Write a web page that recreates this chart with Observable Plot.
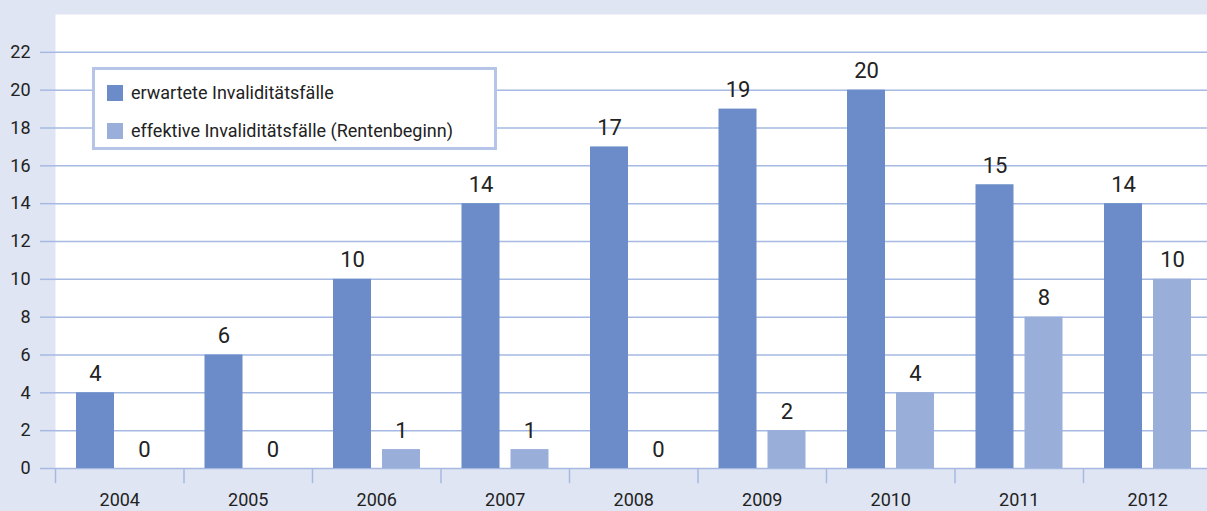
<!DOCTYPE html>
<html>
<head>
<meta charset="utf-8">
<script src="https://cdn.jsdelivr.net/npm/d3@7"></script>
<script src="https://cdn.jsdelivr.net/npm/@observablehq/plot@0.6"></script>
<style>
  html, body { margin: 0; padding: 0; background: #dfe5f3; }
  #wrap { position: relative; width: 1207px; height: 511px; overflow: hidden; font-family: Roboto, "Noto Sans", sans-serif; }
  #legend {
    position: absolute; left: 92px; top: 67px; width: 399px; height: 77px;
    background: #fff; border: 3px solid #b6c5e7;
    font-size: 18px; color: #222;
  }
  .item { position: absolute; left: 12px; display: flex; align-items: center; }
  .sw { width: 16px; height: 16px; margin-right: 8px; }
</style>
</head>
<body>
<div id="wrap"></div>
<script>
const years = ["2004","2005","2006","2007","2008","2009","2010","2011","2012"];
const expected = [4, 6, 10, 14, 17, 19, 20, 15, 14];
const effective = [0, 0, 1, 1, 0, 2, 4, 8, 10];
const seriesNames = ["erwartete Invaliditätsfälle", "effektive Invaliditätsfälle (Rentenbeginn)"];
const colors = ["#6b8cc8", "#99aed9"];
const yTicks = d3.range(0, 23, 2);

const expData = years.map((y, i) => ({year: y, value: expected[i]}));
const effData = years.map((y, i) => ({year: y, value: effective[i]}));

const chart = Plot.plot({
  width: 1207,
  height: 511,
  marginLeft: 55,
  marginRight: 0,
  marginTop: 14,
  marginBottom: 43,
  style: {background: "transparent", fontFamily: "Roboto, 'Noto Sans', sans-serif", color: "#222", overflow: "hidden"},
  x: {domain: years, padding: 0, round: false, range: [55, 1211.5], label: null},
  y: {domain: [0, 24], label: null},
  marks: [
    Plot.frame({fill: "white", stroke: null}),
    Plot.ruleY(yTicks, {stroke: "#a6b9e2", strokeWidth: 1.5}),
    Plot.axisY({ticks: yTicks, tickSize: 15, tickPadding: 10, fontSize: 18, stroke: "#a6b9e2", strokeWidth: 1.5, fill: "#222", label: null}),
    Plot.axisX({tickSize: 0, tickPadding: 25, fontSize: 18, fill: "#222", label: null}),
    Plot.ruleX(years, {x: d => d, dx: -64.25, y1: 0, y2: -0.8, stroke: "#a6b9e2", strokeWidth: 1.5}),
    Plot.barY(expData, {x: "year", y: "value", fill: colors[0], insetLeft: 21, insetRight: 69.5}),
    Plot.barY(effData, {x: "year", y: "value", fill: colors[1], insetLeft: 70, insetRight: 20.5}),
    Plot.text(expData, {x: "year", y: "value", text: d => String(d.value), dx: -24.25, dy: -19, fontSize: 22, fill: "#222", lineAnchor: "middle"}),
    Plot.text(effData, {x: "year", y: "value", text: d => String(d.value), dx: 24.75, dy: -19, fontSize: 22, fill: "#222", lineAnchor: "middle"})
  ]
});

const wrap = document.getElementById("wrap");
wrap.appendChild(chart);
const legend = document.createElement("div");
legend.id = "legend";
seriesNames.forEach((name, i) => {
  const item = document.createElement("div");
  item.className = "item";
  item.style.top = (i === 0 ? 12 : 50) + "px";
  const sw = document.createElement("div");
  sw.className = "sw";
  sw.style.background = colors[i];
  const t = document.createElement("span");
  t.textContent = name;
  item.appendChild(sw);
  item.appendChild(t);
  legend.appendChild(item);
});
wrap.appendChild(legend);
</script>
</body>
</html>
